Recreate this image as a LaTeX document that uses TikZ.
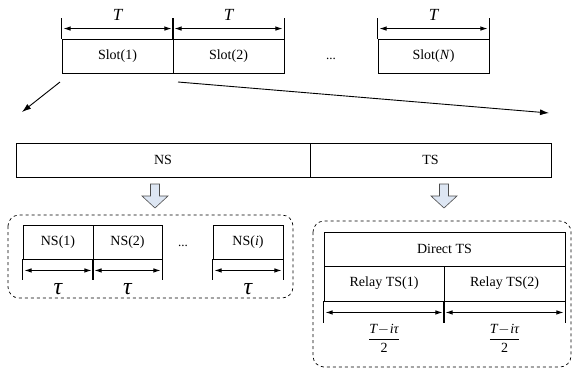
\documentclass[tikz,border=0pt]{standalone}
\usepackage{fontspec}
\setmainfont{Liberation Serif}
\usetikzlibrary{arrows.meta}
\definecolor{hollowfill}{RGB}{221,230,243}
\begin{document}
\begin{tikzpicture}[x=1pt,y=-1pt,
  cell/.style={draw,line width=0.9pt,inner sep=0pt,font=\fontsize{14}{16}\selectfont},
  dim/.style={{Latex[length=7pt,width=4.5pt]}-{Latex[length=7pt,width=4.5pt]},line width=0.8pt},
  tick/.style={line width=0.6pt},
  conn/.style={-{Latex[length=9pt,width=6pt]},line width=0.9pt},
  grp/.style={draw,dashed,rounded corners=11pt,line width=0.7pt},
  hollow/.style={draw=black!70,fill=hollowfill,line width=0.6pt},
  lbl/.style={inner sep=0pt,font=\fontsize{17}{18}\selectfont\itshape},
  taul/.style={inner sep=0pt,font=\fontsize{24}{26}\selectfont\itshape},
  fracl/.style={inner sep=0pt,font=\fontsize{14}{16}\selectfont}
]
\useasboundingbox (0,0) rectangle (572,368);
% top slots
\node[cell,minimum width=111pt,minimum height=34pt] (s1) at (117.5,56) {Slot(1)};
\node[cell,minimum width=111pt,minimum height=34pt] (s2) at (228.5,56) {Slot(2)};
\node[cell,minimum width=111pt,minimum height=34pt] (sN) at (433.5,56) {Slot(\textit{N})};
\node[inner sep=0pt,font=\fontsize{13}{15}\selectfont] (dots1) at (331,59) {...};
\foreach \n in {s1,s2,sN}{
  \draw[tick] (\n.north west) -- ++(0,-21);
  \draw[tick] (\n.north east) -- ++(0,-21);
  \draw[dim] ([xshift=2pt,yshift=10pt]\n.north west) -- ([xshift=-2pt,yshift=10pt]\n.north east);
  \node[lbl] at ([yshift=24pt]\n.north) {T};
}
% NS / TS bar
\node[cell,minimum width=294pt,minimum height=34pt] (ns) at (163,160) {NS};
\node[cell,minimum width=241pt,minimum height=34pt] (ts) at (430.5,160) {TS};
\coordinate (a1) at (60,82);
\coordinate (a1e) at (22,112);
\coordinate (a2) at (178,82);
\coordinate (a2e) at (549,113);
\draw[conn] (a1) -- (a1e);
\draw[conn] (a2) -- (a2e);
% hollow arrows
\foreach \cx in {155,444}{
  \draw[hollow] (\cx-4.5,184) -- (\cx+4.5,184) -- (\cx+4.5,196) -- (\cx+13,196)
     -- (\cx,208) -- (\cx-13,196) -- (\cx-4.5,196) -- cycle;
}
% left group
\draw[grp] (8,215) rectangle (293,298);
\node[cell,minimum width=70pt,minimum height=34pt] (n1) at (58,242) {NS(1)};
\node[cell,minimum width=69pt,minimum height=34pt] (n2) at (127.5,242) {NS(2)};
\node[cell,minimum width=70pt,minimum height=34pt] (ni) at (248,242) {NS(\textit{i})};
\node[inner sep=0pt,font=\fontsize{13}{15}\selectfont] (dots2) at (183,246) {...};
\foreach \n in {n1,n2,ni}{
  \draw[tick] (\n.south west) -- ++(0,21);
  \draw[tick] (\n.south east) -- ++(0,21);
  \draw[dim] ([xshift=2pt,yshift=-11pt]\n.south west) -- ([xshift=-2pt,yshift=-11pt]\n.south east);
  \node[taul] at ([yshift=-30pt]\n.south) {τ};
}
% right group
\draw[grp] (313,221) rectangle (571,367);
\node[cell,minimum width=241pt,minimum height=34pt] (dts) at (444.5,249) {Direct TS};
\node[cell,minimum width=120pt,minimum height=35pt] (r1) at (384,283.5) {Relay TS(1)};
\node[cell,minimum width=121pt,minimum height=35pt] (r2) at (504.5,283.5) {Relay TS(2)};
\foreach \n in {r1,r2}{
  \draw[tick] (\n.south west) -- ++(0,22);
  \draw[tick] (\n.south east) -- ++(0,22);
  \draw[dim] ([xshift=2pt,yshift=-11pt]\n.south west) -- ([xshift=-2pt,yshift=-11pt]\n.south east);
  \node[fracl] at ([yshift=-37pt]\n.south)
    {$\displaystyle\frac{\textit{T}\!-\!\textit{iτ}}{\mbox{2}}$};
}
\end{tikzpicture}
\end{document}
